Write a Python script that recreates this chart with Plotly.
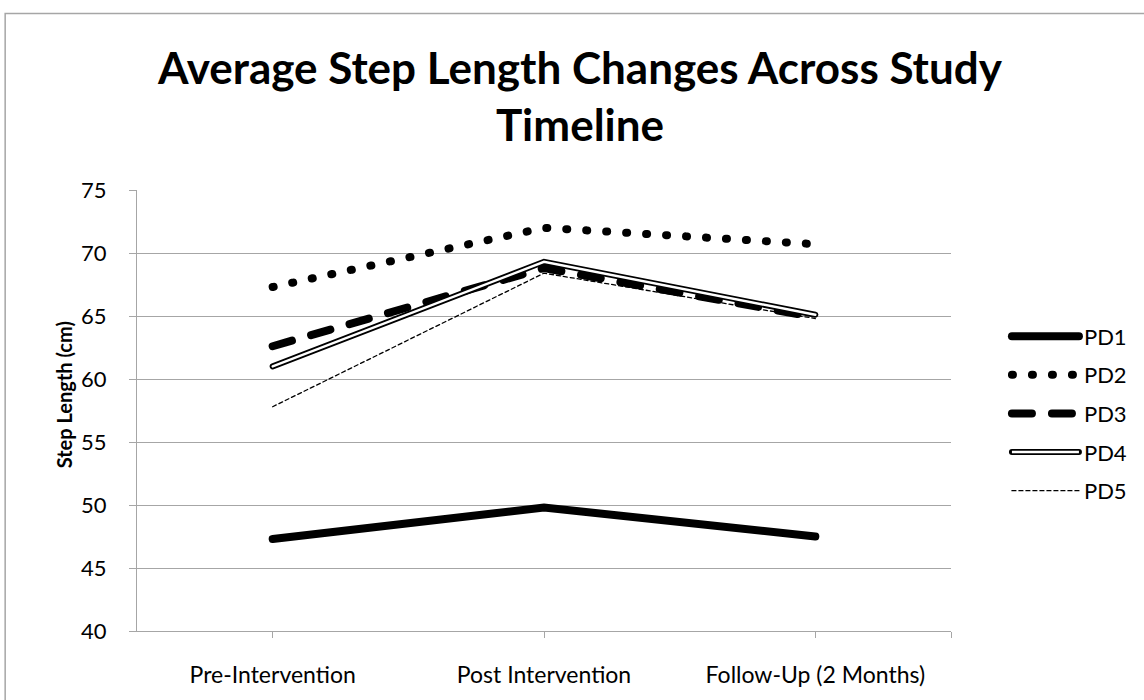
import plotly.graph_objects as go

# ---- data ----
categories = ["Pre-Intervention", "Post Intervention", "Follow-Up (2 Months)"]
PD1 = [47.3, 49.8, 47.5]
PD2 = [67.3, 72.0, 70.7]
PD3 = [62.6, 68.8, 64.9]
PD4 = [61.0, 69.3, 65.1]
PD5 = [57.8, 68.4, 64.8]
y_ticks = [40, 45, 50, 55, 60, 65, 70, 75]

FONT = "Lato"
GRID = "#a6a6a6"
xpos = list(range(len(categories)))

fig = go.Figure()

fig.add_trace(go.Scatter(x=xpos, y=PD1, name="PD1", mode="lines", legendgroup="g1",
                         line=dict(color="black", width=8)))
fig.add_trace(go.Scatter(x=xpos, y=PD2, name="PD2", mode="lines", legendgroup="g2",
                         line=dict(color="black", width=8, dash="1px,19px")))
fig.add_trace(go.Scatter(x=xpos, y=PD3, name="PD3", mode="lines", legendgroup="g3",
                         line=dict(color="black", width=8, dash="20px,20px")))
fig.add_trace(go.Scatter(x=xpos, y=PD4, name="PD4", mode="lines", legendgroup="g4",
                         line=dict(color="black", width=6)))
fig.add_trace(go.Scatter(x=xpos, y=PD4, name="PD4", mode="lines", legendgroup="g4",
                         showlegend=False, line=dict(color="white", width=2.4)))
fig.add_trace(go.Scatter(x=xpos, y=PD5, name="PD5", mode="lines", legendgroup="g5",
                         line=dict(color="black", width=1.3, dash="4px,3px")))

L, R, T, B = 137, 192, 190, 63
W, H = 1144, 700
pw, ph = W - L - R, H - T - B

fig.update_layout(
    width=W, height=H,
    margin=dict(l=L, r=R, t=T, b=B),
    paper_bgcolor="white", plot_bgcolor="white",
    font=dict(family=FONT, color="black"),
    title=dict(
        text="Average Step Length Changes Across Study<br>Timeline",
        font=dict(family=FONT, size=44, color="black", weight="bold"),
        xref="container", x=580 / W, xanchor="center",
        yref="container", y=1 - 84 / H, yanchor="top",
    ),
    showlegend=True,
    legend=dict(
        x=1 + (1008 - (L + pw)) / pw, xanchor="left",
        y=0.5 - 3 / ph, yanchor="middle",
        font=dict(family=FONT, size=22, color="black"),
        itemwidth=67, traceorder="grouped", tracegroupgap=7,
        bgcolor="rgba(0,0,0,0)",
    ),
    xaxis=dict(
        range=[-0.5, 2.5],
        tickmode="array", tickvals=xpos + [2.5], ticktext=categories + [""],
        showline=True, linecolor=GRID, linewidth=1.3,
        ticks="outside", ticklen=6, tickcolor=GRID, tickwidth=1.3,
        showgrid=False, zeroline=False,
        tickfont=dict(family=FONT, size=23, color="black"),
        ticklabelstandoff=17,
    ),
    yaxis=dict(
        range=[40, 75], tickvals=y_ticks,
        showline=True, linecolor=GRID, linewidth=1.3,
        ticks="outside", ticklen=7, tickcolor=GRID, tickwidth=1.3,
        showgrid=True, gridcolor=GRID, gridwidth=1.3, zeroline=False,
        tickfont=dict(family=FONT, size=22, color="black"),
        ticklabelstandoff=18,
    ),
    annotations=[dict(text="Step Length (cm)", textangle=-90, showarrow=False,
                      xref="paper", yref="paper",
                      x=(64 - L) / pw, y=(T + ph - 398) / ph,
                      xanchor="center", yanchor="middle",
                      font=dict(family=FONT, size=20, color="black", weight="bold"))],
    shapes=[dict(type="rect", xref="paper", yref="paper",
                 x0=(5 - L) / pw, x1=1 + (1160 - (L + pw)) / pw,
                 y0=-(H + 10 - (T + ph)) / ph, y1=1 + (T - 11) / ph,
                 line=dict(color="#a6a6a6", width=1.5), layer="below")],
)

post = """
document.documentElement.style.margin = '0';
document.body.style.margin = '0';
document.body.style.padding = '0';
document.body.style.overflow = 'hidden';
var gd = document.getElementById('{plot_id}');
gd.querySelectorAll('path.js-line').forEach(function(p){ p.style.strokeLinecap = 'round'; });
gd.querySelectorAll('.legend .traces').forEach(function(item){
  var d = item.__data__;
  if (d && d[0] && d[0].trace && d[0].trace.name === 'PD4') {
    var p = item.querySelector('path.js-line');
    if (p) { var c = p.cloneNode(); c.style.stroke = 'white'; c.style.strokeWidth = '2.4px';
             c.style.strokeLinecap = 'butt'; p.parentNode.appendChild(c); }
  }
});
"""

fig.write_html("out.html", post_script=post, config={"displayModeBar": False})
